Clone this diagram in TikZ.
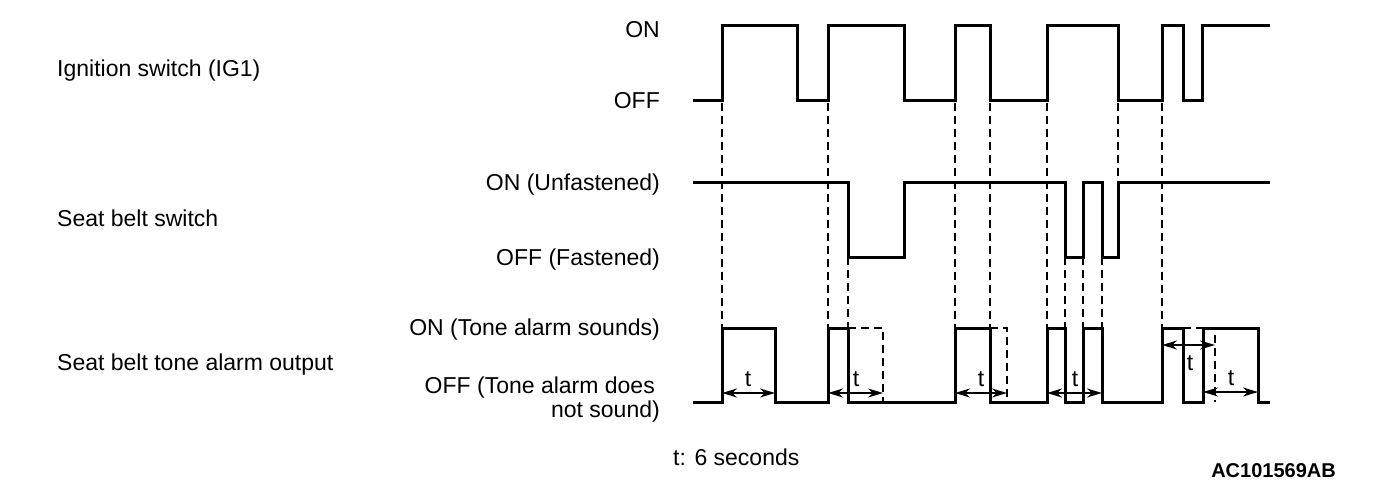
\documentclass[tikz,border=0pt]{standalone}
\usepackage{fontspec}
\setmainfont{Liberation Sans}
\usetikzlibrary{arrows.meta}

\tikzset{
    wave/.style={line width=3pt},
    guide/.style={line width=1.6pt, dash pattern=on 8pt off 5pt},
    tspan/.style={line width=2pt, {Stealth[length=15pt,width=9pt]}-{Stealth[length=15pt,width=9pt]}},
    lbl/.style={font=\fontsize{23}{24}\selectfont, inner sep=0pt}
}

\begin{document}
\begin{tikzpicture}[x=1pt, y=-1pt]
                \useasboundingbox (0,0) rectangle (1392,490);
                \node[lbl, anchor=base west] (ig) at (57,76) {Ignition switch (IG1)};
                \node[lbl, anchor=base west] (sb) at (57,226) {Seat belt switch};
                \node[lbl, anchor=base west] (ta) at (57,370) {Seat belt tone alarm output};
                \node[lbl, anchor=base east] (igon) at (660,37) {ON};
                \node[lbl, anchor=base east] (igoff) at (660,108) {OFF};
                \node[lbl, anchor=base east] (sbon) at (660,190) {ON (Unfastened)};
                \node[lbl, anchor=base east] (sboff) at (660,265) {OFF (Fastened)};
                \node[lbl, anchor=base east] (taon) at (660,335) {ON (Tone alarm sounds)};
                \node[lbl, anchor=north east, align=right] (taoff) at (660,377)
                    {OFF (Tone alarm does\hspace*{5pt}\\not sound)};
                \node[lbl, anchor=base west] (tnote) at (673,465) {t: 6 seconds};
                \node[font=\bfseries\fontsize{20}{20}\selectfont, inner sep=0pt, anchor=base east] (code) at (1336,477) {AC101569AB};
                \foreach \x in {722,828,955,990,1047,1162}
                    \draw[guide] (\x,103) -- (\x,328);
                \draw[guide] (1118,103) -- (1118,182);
                \draw[guide] (848,257) -- (848,402);
                \foreach \x in {1065,1083,1102}
                    \draw[guide] (\x,257) -- (\x,328);
                \draw[wave] (693,100) -| (722,25) -| (797,100) -| (828,25) -| (904,100) -| (955,25) -| (990,100)
                    -| (1047,25) -| (1118,100) -| (1162,25) -| (1183,100) -| (1202,25) -- (1270,25);
                \draw[wave] (693,182) -| (848,257) -| (904,182) -| (1065,257) -| (1083,182) -| (1102,257)
                    -| (1118,182) -- (1270,182);
                \draw[wave] (693,402) -| (722,328) -| (775,402) -| (828,328) -| (848,402) -| (955,328) -| (990,402)
                    -| (1047,328) -| (1065,402) -| (1083,328) -| (1102,402) -| (1162,328) -| (1183,402)
                    -| (1203,328) -| (1258,402) -- (1270,402);
                \draw[guide] (848,328) -| (883,402);
                \draw[guide] (990,328) -| (1007,402);
                \draw[guide] (1183,328) -| (1215,402);
                \draw[tspan] (722,393) -- (775,393) node[lbl, anchor=base] (t1) at (748,386) {t};
                \draw[tspan] (828,393) -- (883,393) node[lbl, anchor=base] (t2) at (856,386) {t};
                \draw[tspan] (955,393) -- (1007,393) node[lbl, anchor=base] (t3) at (981,386) {t};
                \draw[tspan] (1047,393) -- (1102,393) node[lbl, anchor=base] (t4) at (1075,386) {t};
                \draw[tspan] (1162,345) -- (1215,345) node[lbl, anchor=base] (t5) at (1190,370) {t};
                \draw[tspan] (1203,392) -- (1258,392) node[lbl, anchor=base] (t6) at (1231,385) {t};
\end{tikzpicture}
\end{document}
